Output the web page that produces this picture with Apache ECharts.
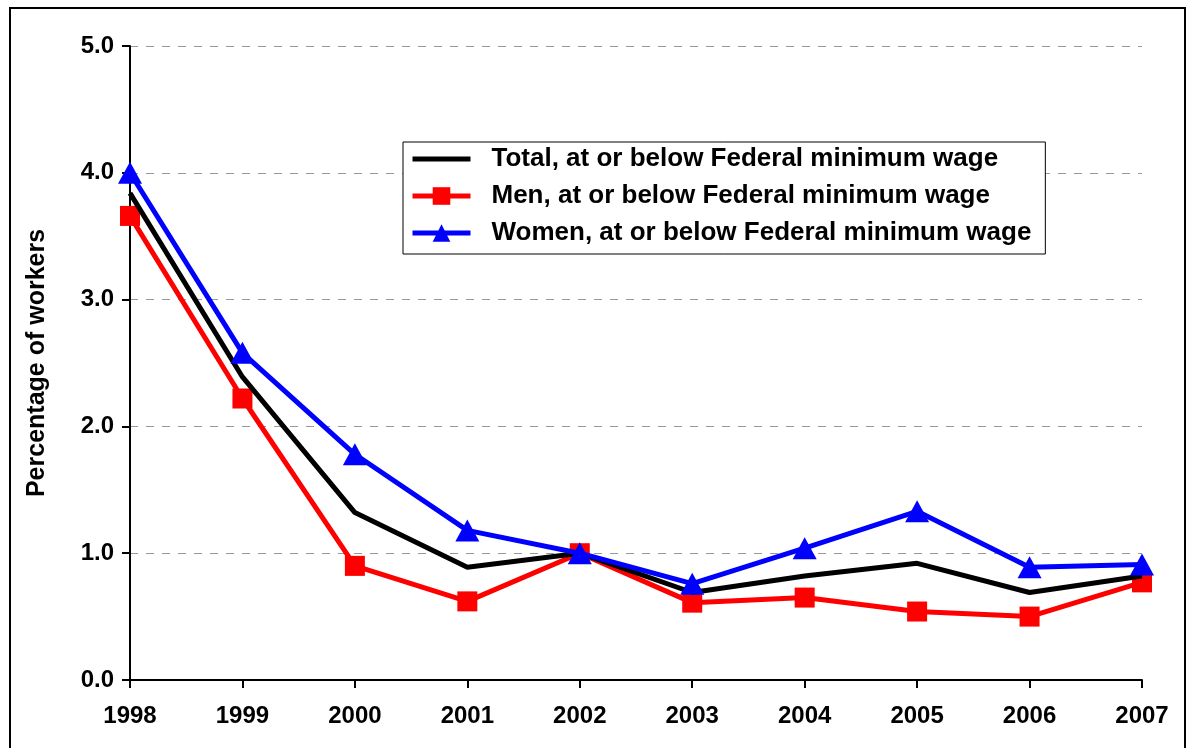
<!DOCTYPE html>
<html>
<head>
<meta charset="utf-8">
<script src="https://cdn.jsdelivr.net/npm/echarts@6/dist/echarts.min.js"></script>
<style>
  html, body { margin: 0; padding: 0; background: #fff; }
  #chart { width: 1189px; height: 748px; }
</style>
</head>
<body>
<div id="chart"></div>
<script>
// 年份
var years = ['1998', '1999', '2000', '2001', '2002', '2003', '2004', '2005', '2006', '2007'];
// 各系列数据 (%)
var totalVals = [3.84, 2.39, 1.32, 0.89, 1.0, 0.69, 0.82, 0.92, 0.69, 0.82];
var menVals = [3.66, 2.22, 0.90, 0.62, 1.0, 0.61, 0.65, 0.54, 0.50, 0.77];
var womenVals = [4.0, 2.58, 1.78, 1.18, 1.0, 0.76, 1.04, 1.33, 0.89, 0.91];
var seriesNames = [
  'Total, at or below Federal minimum wage',
  'Men, at or below Federal minimum wage',
  'Women, at or below Federal minimum wage'
];

var font = 'Liberation Sans, Arial, sans-serif';

var option = {
  animation: false,
  backgroundColor: '#fff',
  graphic: [{
    type: 'rect',
    shape: { x: 10, y: 8, width: 1175, height: 800 },
    style: { fill: 'none', stroke: '#000', lineWidth: 2 }
  }],
  grid: { left: 130, right: 47, top: 46, bottom: 68 },
  legend: {
    left: 403, top: 142,
    orient: 'vertical',
    data: [
      { name: seriesNames[0], icon: 'path://M0,0 L58,0 L58,5 L0,5 Z' },
      { name: seriesNames[1] },
      { name: seriesNames[2] }
    ],
    itemWidth: 58, itemHeight: 22, itemGap: 7,
    padding: [2, 14, 6, 7],
    borderColor: '#000', borderWidth: 1,
    backgroundColor: '#fff',
    lineStyle: { width: 5 },
    textStyle: {
      fontFamily: font, fontWeight: 'bold', fontSize: 26, color: '#000',
      lineHeight: 30, padding: [0, 0, 0, 16]
    }
  },
  xAxis: {
    type: 'category',
    data: years,
    boundaryGap: false,
    axisLine: { lineStyle: { color: '#000', width: 2 } },
    axisTick: { show: true, length: 8, lineStyle: { color: '#000', width: 2 }, alignWithLabel: true },
    axisLabel: { fontFamily: font, fontWeight: 'bold', fontSize: 24, color: '#000', margin: 24 },
    splitLine: { show: false }
  },
  yAxis: {
    type: 'value',
    min: 0, max: 5, interval: 1,
    name: 'Percentage of workers',
    nameLocation: 'middle',
    nameGap: 80,
    nameTextStyle: { fontFamily: font, fontWeight: 'bold', fontSize: 25, color: '#000' },
    axisLine: { show: true, lineStyle: { color: '#000', width: 2 } },
    axisTick: { show: true, length: 8, lineStyle: { color: '#000', width: 2 } },
    axisLabel: {
      fontFamily: font, fontWeight: 'bold', fontSize: 24, color: '#000', margin: 16,
      formatter: function (v) { return v.toFixed(1); }
    },
    splitLine: { show: true, lineStyle: { color: '#999', type: [8, 8], width: 1 } }
  },
  series: [
    {
      name: seriesNames[0], type: 'line', data: totalVals,
      symbol: 'none', color: '#000',
      lineStyle: { width: 5, color: '#000' }, z: 3
    },
    {
      name: seriesNames[1], type: 'line', data: menVals,
      symbol: 'rect', symbolSize: 20, color: '#ff0000',
      itemStyle: { color: '#ff0000' },
      lineStyle: { width: 5, color: '#ff0000' }, z: 2
    },
    {
      name: seriesNames[2], type: 'line', data: womenVals,
      symbol: 'triangle', symbolSize: [24, 22], color: '#0000ff',
      itemStyle: { color: '#0000ff' },
      lineStyle: { width: 5, color: '#0000ff' }, z: 4
    }
  ]
};

var chart = echarts.init(document.getElementById('chart'));
chart.setOption(option);
</script>
</body>
</html>
